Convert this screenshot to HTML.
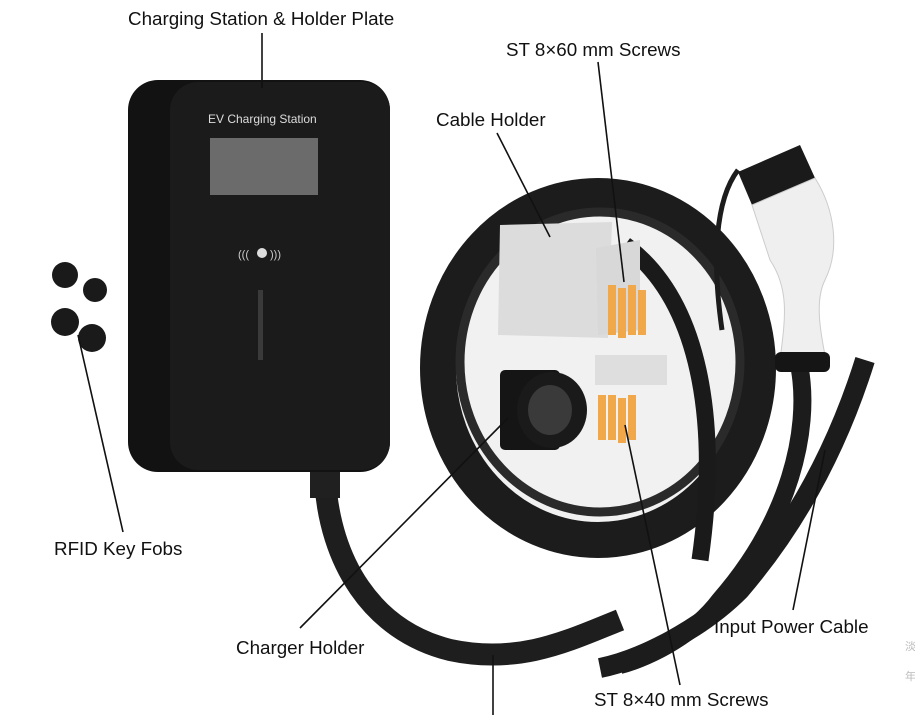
<!DOCTYPE html>
<html><head><meta charset="utf-8"><style>
html,body{margin:0;padding:0;background:#fff;}
svg{display:block}
text{font-family:"Liberation Sans",Arial,sans-serif;font-size:18.8px;fill:#111}
</style></head><body>
<svg width="915" height="715" viewBox="0 0 915 715" xmlns="http://www.w3.org/2000/svg">
<rect width="915" height="715" fill="#fff"/>
<!-- coil -->
<ellipse cx="598" cy="368" rx="158" ry="170" fill="#f1f1f1"/>
<ellipse cx="598" cy="368" rx="160" ry="172" fill="none" stroke="#1c1c1c" stroke-width="36"/>
<ellipse cx="600" cy="362" rx="140" ry="150" fill="none" stroke="#2a2a2a" stroke-width="9"/>
<path d="M625 245 C700 300 720 420 700 560" fill="none" stroke="#1a1a1a" stroke-width="17"/>
<!-- plate -->
<polygon points="500,225 612,222 608,338 498,335" fill="#dcdcdc"/>
<polygon points="596,248 640,240 640,330 598,335" fill="#d8d8d8"/>
<!-- screws -->
<g fill="#f0a84a"><rect x="608" y="285" width="8" height="50"/><rect x="618" y="288" width="8" height="50"/><rect x="628" y="285" width="8" height="50"/><rect x="638" y="290" width="8" height="45"/><rect x="598" y="395" width="8" height="45"/><rect x="608" y="395" width="8" height="45"/><rect x="618" y="398" width="8" height="45"/><rect x="628" y="395" width="8" height="45"/></g>
<rect x="595" y="355" width="72" height="30" fill="#dedede"/>
<!-- charger holder -->
<rect x="500" y="370" width="60" height="80" rx="5" fill="#151515"/>
<ellipse cx="552" cy="410" rx="35" ry="38" fill="#1a1a1a"/>
<ellipse cx="550" cy="410" rx="22" ry="25" fill="#3a3a3a"/>
<!-- gun cable & gun -->
<path d="M738 170 C715 200 712 260 722 330" fill="none" stroke="#1c1c1c" stroke-width="5"/>
<path d="M800 370 C810 430 790 520 720 600 C690 640 640 660 620 665" fill="none" stroke="#1c1c1c" stroke-width="18"/>
<path d="M865 360 C840 440 800 520 740 590 C700 630 640 660 600 668" fill="none" stroke="#1c1c1c" stroke-width="20"/>
<path d="M738 172 L800 145 L815 178 L752 205 Z" fill="#1a1a1a"/>
<path d="M752 205 L815 178 C835 210 840 250 825 280 C815 300 820 330 825 355 L780 360 C785 320 790 290 770 260 Z" fill="#efefef" stroke="#ccc"/>
<rect x="775" y="352" width="55" height="20" rx="6" fill="#151515"/>
<!-- charger cable -->
<path d="M325 480 C330 560 370 630 450 650 C520 665 570 640 620 620" fill="none" stroke="#1e1e1e" stroke-width="22"/>
<rect x="310" y="468" width="30" height="30" fill="#202020"/>
<!-- charger body -->
<rect x="128" y="80" width="262" height="392" rx="30" fill="#121212"/>
<rect x="170" y="82" width="220" height="388" rx="28" fill="#1b1b1b"/>
<text x="208" y="123" style="font-size:12px;fill:#ddd">EV Charging Station</text>
<rect x="210" y="138" width="108" height="57" fill="#6b6b6b"/>
<circle cx="262" cy="253" r="5" fill="#ddd"/>
<text x="238" y="258" style="font-size:11px;fill:#ccc">((( </text><text x="270" y="258" style="font-size:11px;fill:#ccc">)))</text>
<rect x="258" y="290" width="5" height="70" fill="#3a3a3a"/>
<!-- key fobs -->
<circle cx="65" cy="275" r="13" fill="#1a1a1a"/>
<circle cx="95" cy="290" r="12" fill="#1a1a1a"/>
<circle cx="65" cy="322" r="14" fill="#1a1a1a"/>
<circle cx="92" cy="338" r="14" fill="#1a1a1a"/>
<!-- leader lines -->
<g stroke="#111" stroke-width="1.6">
<line x1="262" y1="33" x2="262" y2="88"/>
<line x1="497" y1="133" x2="550" y2="237"/>
<line x1="598" y1="62" x2="624" y2="282"/>
<line x1="78" y1="335" x2="123" y2="532"/>
<line x1="300" y1="628" x2="508" y2="418"/>
<line x1="625" y1="425" x2="680" y2="685"/>
<line x1="793" y1="610" x2="825" y2="450"/>
<line x1="493" y1="655" x2="493" y2="715"/>
</g>
<!-- labels -->
<text x="128" y="25">Charging Station &amp; Holder Plate</text>
<text x="506" y="56">ST 8×60 mm Screws</text>
<text x="436" y="126">Cable Holder</text>
<text x="54" y="555">RFID Key Fobs</text>
<text x="236" y="654">Charger Holder</text>
<text x="714" y="633">Input Power Cable</text>
<text x="594" y="706">ST 8×40 mm Screws</text>
<text x="905" y="650" style="font-size:11px;fill:#bbb">淡</text>
<text x="905" y="680" style="font-size:11px;fill:#bbb">年</text>
</svg>
</body></html>
